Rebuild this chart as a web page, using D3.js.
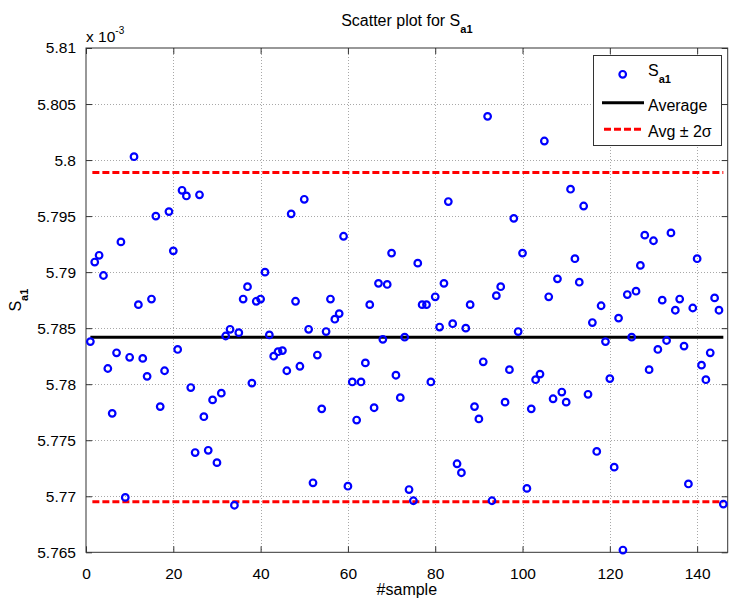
<!DOCTYPE html>
<html><head><meta charset="utf-8">
<script src="https://cdn.jsdelivr.net/npm/d3@7/dist/d3.min.js"></script>
<style>
body{margin:0;background:#fff}
text{font-family:"Liberation Sans",Arial,Helvetica,sans-serif;fill:#000}
</style>
</head><body>
<svg id="chart" width="736" height="602"></svg>
<script>
// ---- data (values shown on axis, in units of 1e-3) ----
const sampleValues = [
5.7838,5.7909,5.7915,5.7897,5.7814,5.7774,5.7828,5.7927,5.7699,5.7824,
5.8003,5.7871,5.7823,5.7807,5.7876,5.7950,5.7780,5.7812,5.7954,5.7919,
5.7831,5.7973,5.7968,5.7797,5.7739,5.7969,5.7771,5.7741,5.7786,5.7730,
5.7792,5.7843,5.7849,5.7692,5.7846,5.7876,5.7887,5.7801,5.7874,5.7876,
5.7900,5.7844,5.7825,5.7829,5.7830,5.7812,5.7952,5.7874,5.7816,5.7965,
5.7849,5.7712,5.7826,5.7778,5.7847,5.7876,5.7858,5.7863,5.7932,5.7709,
5.7802,5.7768,5.7802,5.7819,5.7871,5.7779,5.7890,5.7840,5.7889,5.7917,
5.7808,5.7788,5.7842,5.7706,5.7696,5.7908,5.7871,5.7871,5.7802,5.7878,
5.7851,5.7890,5.7963,5.7854,5.7729,5.7721,5.7850,5.7871,5.7780,5.7769,
5.7820,5.8039,5.7696,5.7879,5.7887,5.7784,5.7813,5.7948,5.7847,5.7917,
5.7707,5.7778,5.7804,5.7809,5.8017,5.7878,5.7787,5.7894,5.7793,5.7784,
5.7974,5.7912,5.7891,5.7959,5.7791,5.7855,5.7740,5.7870,5.7838,5.7805,
5.7726,5.7859,5.7652,5.7880,5.7842,5.7883,5.7906,5.7933,5.7813,5.7928,
5.7831,5.7875,5.7839,5.7935,5.7866,5.7876,5.7834,5.7711,5.7868,5.7912,
5.7817,5.7804,5.7828,5.7877,5.7866,5.7693
];
const sampleIndex = sampleValues.map((v,i)=>i+1);
const averageValue = 5.7842;
const upperBound = 5.7989;   // Avg + 2 sigma
const lowerBound = 5.7695;   // Avg - 2 sigma
const lineSpan = [1,146];
const xDomain = [0,147];
const yDomain = [5.765,5.81];
const xTicks = [0,20,40,60,80,100,120,140];
const yTicks = [5.765,5.77,5.775,5.78,5.785,5.79,5.795,5.8,5.805,5.81];

// ---- layout ----
const L=86, R=727.7, T=48, B=552.3;
const svg = d3.select("#chart");
const x = d3.scaleLinear().domain(xDomain).range([L,R]);
const y = d3.scaleLinear().domain(yDomain).range([B,T]);
const fmtY = v => String(+v.toFixed(3));

// grid
const grid = svg.append("g").attr("stroke","#a8a8a8").attr("stroke-width",1).attr("stroke-dasharray","1,2");
grid.selectAll("line.gx").data(xTicks.filter(d=>d>xDomain[0]&&d<xDomain[1])).join("line")
  .attr("x1",d=>Math.round(x(d))+0.5).attr("x2",d=>Math.round(x(d))+0.5).attr("y1",T).attr("y2",B);
grid.selectAll("line.gy").data(yTicks.filter(d=>d>yDomain[0]&&d<yDomain[1])).join("line")
  .attr("y1",d=>Math.round(y(d))+0.5).attr("y2",d=>Math.round(y(d))+0.5).attr("x1",L).attr("x2",R);

// axes (box with inward ticks)
const axCol="#333";
const axB = svg.append("g").attr("transform",`translate(0,${B})`)
  .call(d3.axisBottom(x).tickValues(xTicks).tickSize(-6).tickPadding(16).tickFormat(d3.format("d")));
const axT = svg.append("g").attr("transform",`translate(0,${T})`)
  .call(d3.axisTop(x).tickValues(xTicks).tickSize(-6).tickFormat(""));
const axL = svg.append("g").attr("transform",`translate(${L},0)`)
  .call(d3.axisLeft(y).tickValues(yTicks).tickSize(-6).tickPadding(10).tickFormat(fmtY));
const axR = svg.append("g").attr("transform",`translate(${R},0)`)
  .call(d3.axisRight(y).tickValues(yTicks).tickSize(-6).tickFormat(""));
[axB,axT,axL,axR].forEach(a=>{
  a.select(".domain").remove();
  a.selectAll(".tick line").attr("stroke",axCol);
  a.selectAll(".tick text").attr("font-size",15.5).attr("fill","#000")
    .style("font-family",'"Liberation Sans",Arial,sans-serif');
});
svg.append("rect").attr("x",L).attr("y",T).attr("width",R-L).attr("height",B-T)
  .attr("fill","none").attr("stroke",axCol).attr("stroke-width",1);

// reference lines
svg.append("line").attr("x1",x(lineSpan[0])).attr("x2",x(lineSpan[1]))
  .attr("y1",y(averageValue)).attr("y2",y(averageValue))
  .attr("stroke","#000").attr("stroke-width",3);
[upperBound,lowerBound].forEach(v=>{
  svg.append("line").attr("x1",x(lineSpan[0])+2).attr("x2",x(lineSpan[1]))
    .attr("y1",y(v)).attr("y2",y(v))
    .attr("stroke","#ff0000").attr("stroke-width",3).attr("stroke-dasharray","7,3");
});

// points
svg.append("g").selectAll("circle").data(sampleValues).join("circle")
  .attr("cx",(d,i)=>x(sampleIndex[i])).attr("cy",d=>y(d)).attr("r",3.3)
  .attr("fill","none").attr("stroke","#0000ff").attr("stroke-width",2.2);

// exponent label
const ex = svg.append("text").attr("x",L).attr("y",42).attr("font-size",15.5);
ex.append("tspan").text("x 10");
ex.append("tspan").attr("font-size",10).attr("dy",-8).text("-3");

// title
const ti = svg.append("text").attr("x",(L+R)/2).attr("y",26).attr("text-anchor","middle").attr("font-size",16);
ti.append("tspan").text("Scatter plot for S");
ti.append("tspan").attr("font-size",11).attr("font-weight","bold").attr("dy",7).text("a1");

// axis labels
svg.append("text").attr("x",(L+R)/2).attr("y",595).attr("text-anchor","middle").attr("font-size",16).text("#sample");
const yl = svg.append("text").attr("transform",`translate(21,${(T+B)/2}) rotate(-90)`)
  .attr("text-anchor","middle").attr("font-size",16);
yl.append("tspan").text("S");
yl.append("tspan").attr("font-size",11).attr("font-weight","bold").attr("dy",7).text("a1");

// legend
const lg = svg.append("g");
lg.append("rect").attr("x",593.5).attr("y",55.5).attr("width",128).attr("height",90)
  .attr("fill","#fff").attr("stroke","#333").attr("stroke-width",1);
lg.append("circle").attr("cx",622.7).attr("cy",74.3).attr("r",3.3)
  .attr("fill","none").attr("stroke","#0000ff").attr("stroke-width",2.2);
const l1 = lg.append("text").attr("x",648).attr("y",76).attr("font-size",16);
l1.append("tspan").text("S");
l1.append("tspan").attr("font-size",11).attr("font-weight","bold").attr("dy",7).text("a1");
lg.append("line").attr("x1",602).attr("x2",644).attr("y1",102.7).attr("y2",102.7)
  .attr("stroke","#000").attr("stroke-width",3);
lg.append("text").attr("x",648).attr("y",111).attr("font-size",16).text("Average");
lg.append("line").attr("x1",604).attr("x2",642).attr("y1",129.3).attr("y2",129.3)
  .attr("stroke","#ff0000").attr("stroke-width",3).attr("stroke-dasharray","7,3");
lg.append("text").attr("x",648).attr("y",137).attr("font-size",16).text("Avg \u00B1 2\u03C3");
</script>
</body></html>
